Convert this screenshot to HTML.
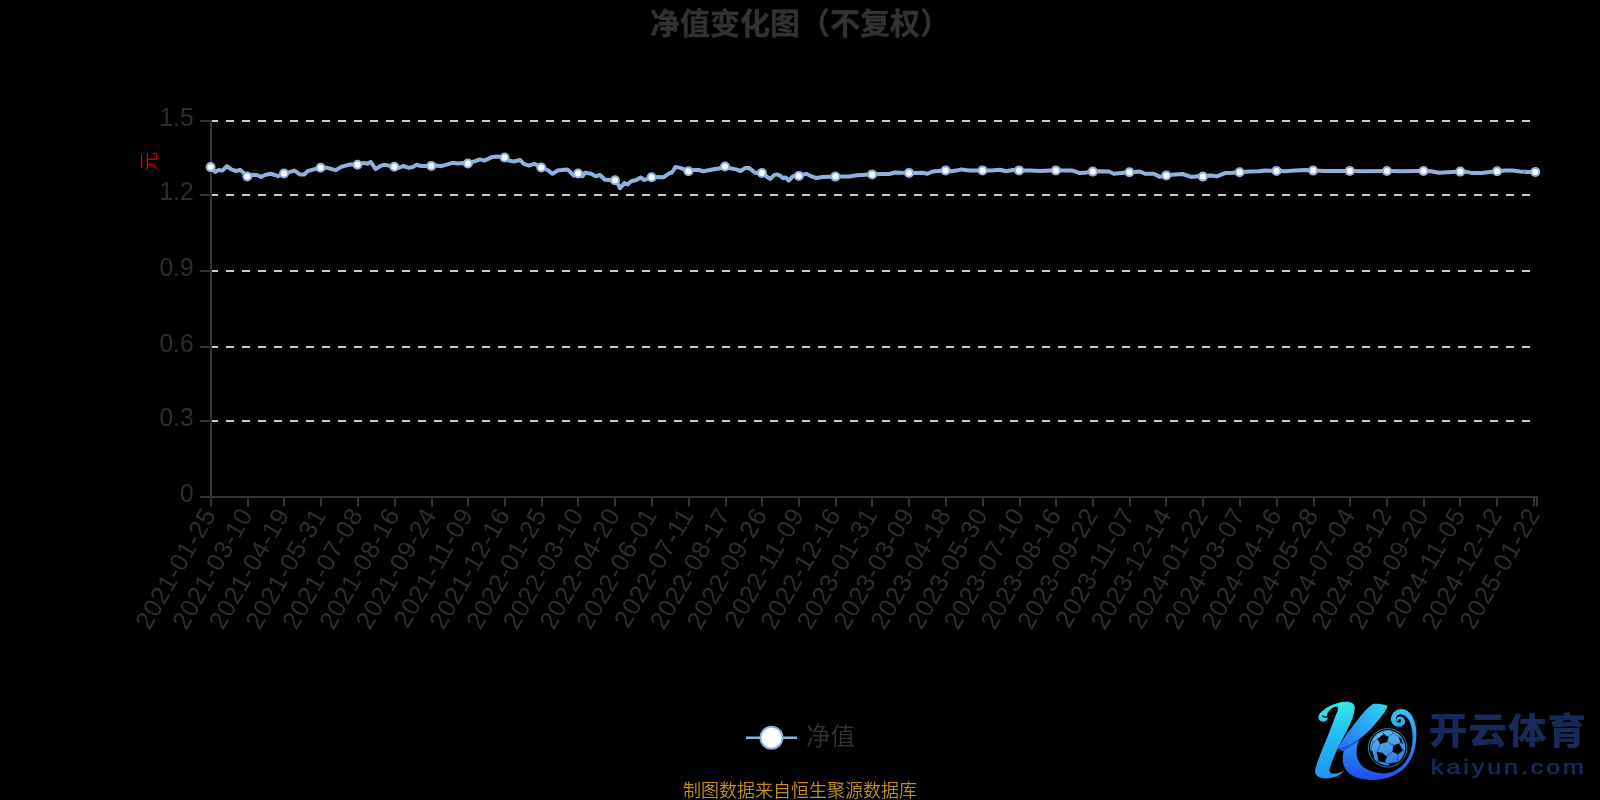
<!DOCTYPE html>
<html lang="zh-CN"><head><meta charset="utf-8"><title>净值变化图（不复权）</title>
<style>
html,body{margin:0;padding:0;background:#000;}
body{width:1600px;height:800px;overflow:hidden;position:relative;font-family:'Liberation Sans', 'Noto Sans CJK SC', sans-serif;}
#chart{position:absolute;left:0;top:0;width:1600px;height:800px;display:block;}
.title{position:absolute;left:0;top:0;width:1600px;text-align:center;font-family:"Liberation Sans","Noto Sans CJK SC",sans-serif;font-weight:bold;font-size:30px;line-height:30px;color:#333;white-space:nowrap;-webkit-text-stroke:0.4px #333;}
.src{position:absolute;left:0;width:1600px;text-align:center;font-size:18px;line-height:18px;color:#c8901e;font-weight:350;white-space:nowrap;}
.legend-label{position:absolute;font-size:24.5px;line-height:24px;color:#333;font-weight:350;white-space:nowrap;}
.yname{position:absolute;color:#e00000;font-weight:350;font-size:19px;line-height:19px;white-space:nowrap;transform-origin:center center;transform:rotate(-90deg);}
.logo-cn{position:absolute;font-family:"Liberation Sans","Noto Sans CJK SC",sans-serif;font-weight:bold;color:#182b5a;white-space:nowrap;}
.logo-en{position:absolute;font-family:"Liberation Sans","Noto Sans CJK SC",sans-serif;font-weight:bold;color:#182b5a;white-space:nowrap;}
.title,.src,.legend-label,.yname,.logo-cn,.logo-en{opacity:0.996;will-change:opacity;}
</style></head><body>
<svg id="chart" width="1600" height="800" viewBox="0 0 1600 800">
<rect x="0" y="0" width="1600" height="800" fill="#000"/>
<line x1="210" y1="121" x2="1536" y2="121" stroke="#cccccc" stroke-width="2" stroke-dasharray="8 8"/>
<line x1="210" y1="195" x2="1536" y2="195" stroke="#cccccc" stroke-width="2" stroke-dasharray="8 8"/>
<line x1="210" y1="271" x2="1536" y2="271" stroke="#cccccc" stroke-width="2" stroke-dasharray="8 8"/>
<line x1="210" y1="347" x2="1536" y2="347" stroke="#cccccc" stroke-width="2" stroke-dasharray="8 8"/>
<line x1="210" y1="421" x2="1536" y2="421" stroke="#cccccc" stroke-width="2" stroke-dasharray="8 8"/>
<line x1="200" y1="121" x2="211" y2="121" stroke="#333333" stroke-width="2"/>
<line x1="200" y1="195" x2="211" y2="195" stroke="#333333" stroke-width="2"/>
<line x1="200" y1="271" x2="211" y2="271" stroke="#333333" stroke-width="2"/>
<line x1="200" y1="347" x2="211" y2="347" stroke="#333333" stroke-width="2"/>
<line x1="200" y1="421" x2="211" y2="421" stroke="#333333" stroke-width="2"/>
<line x1="200" y1="497" x2="211" y2="497" stroke="#333333" stroke-width="2"/>
<line x1="211" y1="120" x2="211" y2="498" stroke="#333333" stroke-width="2"/>
<line x1="210" y1="497" x2="1538" y2="497" stroke="#333333" stroke-width="2"/>
<line x1="211.0" y1="497" x2="211.0" y2="506.5" stroke="#333333" stroke-width="2"/>
<line x1="248.0" y1="497" x2="248.0" y2="506.5" stroke="#333333" stroke-width="2"/>
<line x1="284.0" y1="497" x2="284.0" y2="506.5" stroke="#333333" stroke-width="2"/>
<line x1="321.0" y1="497" x2="321.0" y2="506.5" stroke="#333333" stroke-width="2"/>
<line x1="358.0" y1="497" x2="358.0" y2="506.5" stroke="#333333" stroke-width="2"/>
<line x1="395.0" y1="497" x2="395.0" y2="506.5" stroke="#333333" stroke-width="2"/>
<line x1="432.0" y1="497" x2="432.0" y2="506.5" stroke="#333333" stroke-width="2"/>
<line x1="468.0" y1="497" x2="468.0" y2="506.5" stroke="#333333" stroke-width="2"/>
<line x1="505.0" y1="497" x2="505.0" y2="506.5" stroke="#333333" stroke-width="2"/>
<line x1="542.0" y1="497" x2="542.0" y2="506.5" stroke="#333333" stroke-width="2"/>
<line x1="578.0" y1="497" x2="578.0" y2="506.5" stroke="#333333" stroke-width="2"/>
<line x1="615.0" y1="497" x2="615.0" y2="506.5" stroke="#333333" stroke-width="2"/>
<line x1="652.0" y1="497" x2="652.0" y2="506.5" stroke="#333333" stroke-width="2"/>
<line x1="689.0" y1="497" x2="689.0" y2="506.5" stroke="#333333" stroke-width="2"/>
<line x1="726.0" y1="497" x2="726.0" y2="506.5" stroke="#333333" stroke-width="2"/>
<line x1="762.0" y1="497" x2="762.0" y2="506.5" stroke="#333333" stroke-width="2"/>
<line x1="799.0" y1="497" x2="799.0" y2="506.5" stroke="#333333" stroke-width="2"/>
<line x1="836.0" y1="497" x2="836.0" y2="506.5" stroke="#333333" stroke-width="2"/>
<line x1="872.0" y1="497" x2="872.0" y2="506.5" stroke="#333333" stroke-width="2"/>
<line x1="909.0" y1="497" x2="909.0" y2="506.5" stroke="#333333" stroke-width="2"/>
<line x1="946.0" y1="497" x2="946.0" y2="506.5" stroke="#333333" stroke-width="2"/>
<line x1="983.0" y1="497" x2="983.0" y2="506.5" stroke="#333333" stroke-width="2"/>
<line x1="1020.0" y1="497" x2="1020.0" y2="506.5" stroke="#333333" stroke-width="2"/>
<line x1="1056.0" y1="497" x2="1056.0" y2="506.5" stroke="#333333" stroke-width="2"/>
<line x1="1093.0" y1="497" x2="1093.0" y2="506.5" stroke="#333333" stroke-width="2"/>
<line x1="1130.0" y1="497" x2="1130.0" y2="506.5" stroke="#333333" stroke-width="2"/>
<line x1="1166.0" y1="497" x2="1166.0" y2="506.5" stroke="#333333" stroke-width="2"/>
<line x1="1203.0" y1="497" x2="1203.0" y2="506.5" stroke="#333333" stroke-width="2"/>
<line x1="1240.0" y1="497" x2="1240.0" y2="506.5" stroke="#333333" stroke-width="2"/>
<line x1="1277.0" y1="497" x2="1277.0" y2="506.5" stroke="#333333" stroke-width="2"/>
<line x1="1314.0" y1="497" x2="1314.0" y2="506.5" stroke="#333333" stroke-width="2"/>
<line x1="1350.0" y1="497" x2="1350.0" y2="506.5" stroke="#333333" stroke-width="2"/>
<line x1="1387.0" y1="497" x2="1387.0" y2="506.5" stroke="#333333" stroke-width="2"/>
<line x1="1424.0" y1="497" x2="1424.0" y2="506.5" stroke="#333333" stroke-width="2"/>
<line x1="1460.0" y1="497" x2="1460.0" y2="506.5" stroke="#333333" stroke-width="2"/>
<line x1="1497.0" y1="497" x2="1497.0" y2="506.5" stroke="#333333" stroke-width="2"/>
<line x1="1534.0" y1="497" x2="1534.0" y2="506.5" stroke="#333333" stroke-width="2"/>
<line x1="1537.0" y1="497" x2="1537.0" y2="506.5" stroke="#333333" stroke-width="2"/>
<g opacity="0.996">
<text transform="translate(193.6,126.0) scale(0.945,1)" x="0" y="0" text-anchor="end" font-family="'Liberation Sans', 'Noto Sans CJK SC', sans-serif" font-size="26" fill="#2f2f2f">1.5</text>
<text transform="translate(193.6,200.0) scale(0.945,1)" x="0" y="0" text-anchor="end" font-family="'Liberation Sans', 'Noto Sans CJK SC', sans-serif" font-size="26" fill="#2f2f2f">1.2</text>
<text transform="translate(193.6,276.0) scale(0.945,1)" x="0" y="0" text-anchor="end" font-family="'Liberation Sans', 'Noto Sans CJK SC', sans-serif" font-size="26" fill="#2f2f2f">0.9</text>
<text transform="translate(193.6,352.0) scale(0.945,1)" x="0" y="0" text-anchor="end" font-family="'Liberation Sans', 'Noto Sans CJK SC', sans-serif" font-size="26" fill="#2f2f2f">0.6</text>
<text transform="translate(193.6,426.0) scale(0.945,1)" x="0" y="0" text-anchor="end" font-family="'Liberation Sans', 'Noto Sans CJK SC', sans-serif" font-size="26" fill="#2f2f2f">0.3</text>
<text transform="translate(193.6,502.0) scale(0.945,1)" x="0" y="0" text-anchor="end" font-family="'Liberation Sans', 'Noto Sans CJK SC', sans-serif" font-size="26" fill="#2f2f2f">0</text>
<text transform="translate(211.0,511.0) rotate(-60)" x="0" y="0" text-anchor="end" dominant-baseline="middle" font-family="'Liberation Sans', 'Noto Sans CJK SC', sans-serif" font-size="25.2" letter-spacing="0.60" fill="#2f2f2f">2021-01-25</text>
<text transform="translate(247.8,511.0) rotate(-60)" x="0" y="0" text-anchor="end" dominant-baseline="middle" font-family="'Liberation Sans', 'Noto Sans CJK SC', sans-serif" font-size="25.2" letter-spacing="0.60" fill="#2f2f2f">2021-03-10</text>
<text transform="translate(284.5,511.0) rotate(-60)" x="0" y="0" text-anchor="end" dominant-baseline="middle" font-family="'Liberation Sans', 'Noto Sans CJK SC', sans-serif" font-size="25.2" letter-spacing="0.60" fill="#2f2f2f">2021-04-19</text>
<text transform="translate(321.2,511.0) rotate(-60)" x="0" y="0" text-anchor="end" dominant-baseline="middle" font-family="'Liberation Sans', 'Noto Sans CJK SC', sans-serif" font-size="25.2" letter-spacing="0.60" fill="#2f2f2f">2021-05-31</text>
<text transform="translate(358.0,511.0) rotate(-60)" x="0" y="0" text-anchor="end" dominant-baseline="middle" font-family="'Liberation Sans', 'Noto Sans CJK SC', sans-serif" font-size="25.2" letter-spacing="0.60" fill="#2f2f2f">2021-07-08</text>
<text transform="translate(394.8,511.0) rotate(-60)" x="0" y="0" text-anchor="end" dominant-baseline="middle" font-family="'Liberation Sans', 'Noto Sans CJK SC', sans-serif" font-size="25.2" letter-spacing="0.60" fill="#2f2f2f">2021-08-16</text>
<text transform="translate(431.5,511.0) rotate(-60)" x="0" y="0" text-anchor="end" dominant-baseline="middle" font-family="'Liberation Sans', 'Noto Sans CJK SC', sans-serif" font-size="25.2" letter-spacing="0.60" fill="#2f2f2f">2021-09-24</text>
<text transform="translate(468.2,511.0) rotate(-60)" x="0" y="0" text-anchor="end" dominant-baseline="middle" font-family="'Liberation Sans', 'Noto Sans CJK SC', sans-serif" font-size="25.2" letter-spacing="0.60" fill="#2f2f2f">2021-11-09</text>
<text transform="translate(505.0,511.0) rotate(-60)" x="0" y="0" text-anchor="end" dominant-baseline="middle" font-family="'Liberation Sans', 'Noto Sans CJK SC', sans-serif" font-size="25.2" letter-spacing="0.60" fill="#2f2f2f">2021-12-16</text>
<text transform="translate(541.8,511.0) rotate(-60)" x="0" y="0" text-anchor="end" dominant-baseline="middle" font-family="'Liberation Sans', 'Noto Sans CJK SC', sans-serif" font-size="25.2" letter-spacing="0.60" fill="#2f2f2f">2022-01-25</text>
<text transform="translate(578.5,511.0) rotate(-60)" x="0" y="0" text-anchor="end" dominant-baseline="middle" font-family="'Liberation Sans', 'Noto Sans CJK SC', sans-serif" font-size="25.2" letter-spacing="0.60" fill="#2f2f2f">2022-03-10</text>
<text transform="translate(615.2,511.0) rotate(-60)" x="0" y="0" text-anchor="end" dominant-baseline="middle" font-family="'Liberation Sans', 'Noto Sans CJK SC', sans-serif" font-size="25.2" letter-spacing="0.60" fill="#2f2f2f">2022-04-20</text>
<text transform="translate(652.0,511.0) rotate(-60)" x="0" y="0" text-anchor="end" dominant-baseline="middle" font-family="'Liberation Sans', 'Noto Sans CJK SC', sans-serif" font-size="25.2" letter-spacing="0.60" fill="#2f2f2f">2022-06-01</text>
<text transform="translate(688.8,511.0) rotate(-60)" x="0" y="0" text-anchor="end" dominant-baseline="middle" font-family="'Liberation Sans', 'Noto Sans CJK SC', sans-serif" font-size="25.2" letter-spacing="0.60" fill="#2f2f2f">2022-07-11</text>
<text transform="translate(725.5,511.0) rotate(-60)" x="0" y="0" text-anchor="end" dominant-baseline="middle" font-family="'Liberation Sans', 'Noto Sans CJK SC', sans-serif" font-size="25.2" letter-spacing="0.60" fill="#2f2f2f">2022-08-17</text>
<text transform="translate(762.2,511.0) rotate(-60)" x="0" y="0" text-anchor="end" dominant-baseline="middle" font-family="'Liberation Sans', 'Noto Sans CJK SC', sans-serif" font-size="25.2" letter-spacing="0.60" fill="#2f2f2f">2022-09-26</text>
<text transform="translate(799.0,511.0) rotate(-60)" x="0" y="0" text-anchor="end" dominant-baseline="middle" font-family="'Liberation Sans', 'Noto Sans CJK SC', sans-serif" font-size="25.2" letter-spacing="0.60" fill="#2f2f2f">2022-11-09</text>
<text transform="translate(835.8,511.0) rotate(-60)" x="0" y="0" text-anchor="end" dominant-baseline="middle" font-family="'Liberation Sans', 'Noto Sans CJK SC', sans-serif" font-size="25.2" letter-spacing="0.60" fill="#2f2f2f">2022-12-16</text>
<text transform="translate(872.5,511.0) rotate(-60)" x="0" y="0" text-anchor="end" dominant-baseline="middle" font-family="'Liberation Sans', 'Noto Sans CJK SC', sans-serif" font-size="25.2" letter-spacing="0.60" fill="#2f2f2f">2023-01-31</text>
<text transform="translate(909.2,511.0) rotate(-60)" x="0" y="0" text-anchor="end" dominant-baseline="middle" font-family="'Liberation Sans', 'Noto Sans CJK SC', sans-serif" font-size="25.2" letter-spacing="0.60" fill="#2f2f2f">2023-03-09</text>
<text transform="translate(946.0,511.0) rotate(-60)" x="0" y="0" text-anchor="end" dominant-baseline="middle" font-family="'Liberation Sans', 'Noto Sans CJK SC', sans-serif" font-size="25.2" letter-spacing="0.60" fill="#2f2f2f">2023-04-18</text>
<text transform="translate(982.8,511.0) rotate(-60)" x="0" y="0" text-anchor="end" dominant-baseline="middle" font-family="'Liberation Sans', 'Noto Sans CJK SC', sans-serif" font-size="25.2" letter-spacing="0.60" fill="#2f2f2f">2023-05-30</text>
<text transform="translate(1019.5,511.0) rotate(-60)" x="0" y="0" text-anchor="end" dominant-baseline="middle" font-family="'Liberation Sans', 'Noto Sans CJK SC', sans-serif" font-size="25.2" letter-spacing="0.60" fill="#2f2f2f">2023-07-10</text>
<text transform="translate(1056.2,511.0) rotate(-60)" x="0" y="0" text-anchor="end" dominant-baseline="middle" font-family="'Liberation Sans', 'Noto Sans CJK SC', sans-serif" font-size="25.2" letter-spacing="0.60" fill="#2f2f2f">2023-08-16</text>
<text transform="translate(1093.0,511.0) rotate(-60)" x="0" y="0" text-anchor="end" dominant-baseline="middle" font-family="'Liberation Sans', 'Noto Sans CJK SC', sans-serif" font-size="25.2" letter-spacing="0.60" fill="#2f2f2f">2023-09-22</text>
<text transform="translate(1129.8,511.0) rotate(-60)" x="0" y="0" text-anchor="end" dominant-baseline="middle" font-family="'Liberation Sans', 'Noto Sans CJK SC', sans-serif" font-size="25.2" letter-spacing="0.60" fill="#2f2f2f">2023-11-07</text>
<text transform="translate(1166.5,511.0) rotate(-60)" x="0" y="0" text-anchor="end" dominant-baseline="middle" font-family="'Liberation Sans', 'Noto Sans CJK SC', sans-serif" font-size="25.2" letter-spacing="0.60" fill="#2f2f2f">2023-12-14</text>
<text transform="translate(1203.2,511.0) rotate(-60)" x="0" y="0" text-anchor="end" dominant-baseline="middle" font-family="'Liberation Sans', 'Noto Sans CJK SC', sans-serif" font-size="25.2" letter-spacing="0.60" fill="#2f2f2f">2024-01-22</text>
<text transform="translate(1240.0,511.0) rotate(-60)" x="0" y="0" text-anchor="end" dominant-baseline="middle" font-family="'Liberation Sans', 'Noto Sans CJK SC', sans-serif" font-size="25.2" letter-spacing="0.60" fill="#2f2f2f">2024-03-07</text>
<text transform="translate(1276.8,511.0) rotate(-60)" x="0" y="0" text-anchor="end" dominant-baseline="middle" font-family="'Liberation Sans', 'Noto Sans CJK SC', sans-serif" font-size="25.2" letter-spacing="0.60" fill="#2f2f2f">2024-04-16</text>
<text transform="translate(1313.5,511.0) rotate(-60)" x="0" y="0" text-anchor="end" dominant-baseline="middle" font-family="'Liberation Sans', 'Noto Sans CJK SC', sans-serif" font-size="25.2" letter-spacing="0.60" fill="#2f2f2f">2024-05-28</text>
<text transform="translate(1350.2,511.0) rotate(-60)" x="0" y="0" text-anchor="end" dominant-baseline="middle" font-family="'Liberation Sans', 'Noto Sans CJK SC', sans-serif" font-size="25.2" letter-spacing="0.60" fill="#2f2f2f">2024-07-04</text>
<text transform="translate(1387.0,511.0) rotate(-60)" x="0" y="0" text-anchor="end" dominant-baseline="middle" font-family="'Liberation Sans', 'Noto Sans CJK SC', sans-serif" font-size="25.2" letter-spacing="0.60" fill="#2f2f2f">2024-08-12</text>
<text transform="translate(1423.8,511.0) rotate(-60)" x="0" y="0" text-anchor="end" dominant-baseline="middle" font-family="'Liberation Sans', 'Noto Sans CJK SC', sans-serif" font-size="25.2" letter-spacing="0.60" fill="#2f2f2f">2024-09-20</text>
<text transform="translate(1460.5,511.0) rotate(-60)" x="0" y="0" text-anchor="end" dominant-baseline="middle" font-family="'Liberation Sans', 'Noto Sans CJK SC', sans-serif" font-size="25.2" letter-spacing="0.60" fill="#2f2f2f">2024-11-05</text>
<text transform="translate(1497.2,511.0) rotate(-60)" x="0" y="0" text-anchor="end" dominant-baseline="middle" font-family="'Liberation Sans', 'Noto Sans CJK SC', sans-serif" font-size="25.2" letter-spacing="0.60" fill="#2f2f2f">2024-12-12</text>
<text transform="translate(1535.0,511.0) rotate(-60)" x="0" y="0" text-anchor="end" dominant-baseline="middle" font-family="'Liberation Sans', 'Noto Sans CJK SC', sans-serif" font-size="25.2" letter-spacing="0.60" fill="#2f2f2f">2025-01-22</text>
</g>
<path d="M210.6 167.1 L215.0 171.9 L218.8 170.0 L222.5 170.6 L226.9 166.2 L231.2 169.4 L236.2 171.0 L240.0 169.8 L243.8 173.1 L247.2 176.5 L252.5 174.8 L256.9 175.0 L261.2 176.9 L265.0 175.0 L270.6 173.8 L275.0 175.0 L278.1 176.2 L284.0 173.5 L290.0 171.9 L294.4 170.6 L300.0 174.4 L304.4 174.4 L307.5 171.2 L313.8 169.4 L320.6 167.8 L327.5 167.8 L335.6 170.2 L341.2 166.9 L350.0 164.4 L357.5 164.8 L363.8 162.9 L367.5 163.8 L370.6 161.9 L375.6 169.0 L380.0 166.2 L383.8 164.8 L388.8 165.6 L394.1 166.9 L399.4 167.8 L403.1 166.0 L408.8 167.8 L413.1 166.9 L416.2 164.8 L421.2 166.0 L426.2 166.0 L431.2 165.9 L436.2 165.6 L441.2 166.2 L447.5 164.4 L452.5 162.8 L458.1 163.5 L462.5 163.1 L467.9 163.5 L475.0 161.2 L480.0 159.4 L484.4 160.6 L492.5 156.9 L497.5 156.5 L504.6 157.5 L508.8 160.6 L513.8 161.5 L520.0 160.0 L523.8 163.8 L528.8 165.6 L534.4 163.8 L541.2 167.5 L547.5 170.0 L552.5 173.8 L557.5 170.6 L567.5 169.4 L573.8 175.6 L578.1 173.5 L582.5 176.2 L585.0 172.8 L590.0 173.5 L591.2 173.8 L595.6 176.2 L600.0 175.0 L605.0 179.8 L610.0 180.0 L615.0 180.2 L617.5 183.1 L620.0 188.1 L624.4 183.1 L627.5 184.4 L631.2 181.2 L636.2 180.0 L640.6 177.5 L644.4 180.0 L651.6 177.2 L657.5 176.9 L663.8 177.2 L668.8 173.5 L671.9 172.5 L675.6 166.9 L681.2 168.1 L688.4 171.2 L693.8 170.0 L698.8 170.0 L703.1 171.2 L710.0 170.0 L715.0 169.0 L718.8 168.5 L725.0 166.5 L731.2 168.5 L736.2 169.4 L740.6 171.0 L745.0 168.1 L749.4 168.1 L755.0 172.8 L761.9 172.9 L766.2 176.2 L770.0 179.0 L774.4 175.0 L776.9 174.4 L780.0 175.6 L783.1 178.1 L785.6 177.5 L788.8 180.6 L793.1 176.2 L798.8 175.9 L806.2 173.8 L811.2 176.2 L816.2 178.1 L822.5 177.1 L835.4 176.6 L848.8 176.5 L857.5 175.2 L865.0 174.8 L872.1 174.4 L880.0 174.0 L889.4 174.0 L895.0 172.5 L902.5 172.8 L909.0 172.9 L915.0 173.1 L922.5 172.8 L927.5 173.8 L932.5 171.5 L938.8 171.0 L945.6 170.4 L951.2 171.2 L956.2 170.6 L961.2 169.4 L966.2 170.2 L970.0 170.4 L975.0 170.6 L982.5 170.4 L991.2 170.4 L1000.0 169.8 L1006.2 171.2 L1012.5 170.0 L1019.1 170.4 L1030.0 170.6 L1041.2 170.9 L1050.0 170.4 L1055.9 170.4 L1063.8 170.4 L1072.5 170.6 L1080.0 173.1 L1086.2 172.5 L1092.8 171.6 L1100.0 171.2 L1108.8 171.5 L1113.8 173.8 L1121.2 173.1 L1129.4 172.2 L1135.0 171.9 L1140.0 171.5 L1145.0 173.8 L1153.8 173.8 L1160.0 176.9 L1166.2 175.4 L1175.0 174.4 L1182.5 174.0 L1191.2 176.9 L1197.5 176.2 L1202.9 176.6 L1210.0 175.6 L1217.5 176.2 L1225.0 173.1 L1232.5 172.8 L1239.6 172.2 L1250.0 171.5 L1258.8 171.2 L1265.0 170.6 L1276.5 170.9 L1285.0 171.2 L1295.0 170.6 L1305.0 170.0 L1313.1 170.6 L1325.0 170.9 L1337.5 170.9 L1349.6 170.9 L1365.0 171.2 L1386.9 171.0 L1402.5 171.2 L1415.0 171.0 L1423.5 171.0 L1431.2 171.2 L1438.8 172.8 L1447.5 172.2 L1460.2 171.6 L1466.2 171.9 L1472.5 173.1 L1481.2 172.9 L1490.0 171.9 L1497.1 171.2 L1505.0 170.6 L1512.5 170.4 L1520.0 171.5 L1527.5 171.9 L1535.2 171.9" fill="none" stroke="#90b1de" stroke-width="4" stroke-linejoin="round" stroke-linecap="round"/>
<circle cx="210.6" cy="167.1" r="4" fill="#fff" stroke="#90b1de" stroke-width="2"/>
<circle cx="247.3" cy="176.5" r="4" fill="#fff" stroke="#90b1de" stroke-width="2"/>
<circle cx="284.0" cy="173.5" r="4" fill="#fff" stroke="#90b1de" stroke-width="2"/>
<circle cx="320.6" cy="167.8" r="4" fill="#fff" stroke="#90b1de" stroke-width="2"/>
<circle cx="357.5" cy="164.8" r="4" fill="#fff" stroke="#90b1de" stroke-width="2"/>
<circle cx="394.3" cy="166.7" r="4" fill="#fff" stroke="#90b1de" stroke-width="2"/>
<circle cx="431.3" cy="165.9" r="4" fill="#fff" stroke="#90b1de" stroke-width="2"/>
<circle cx="467.9" cy="163.5" r="4" fill="#fff" stroke="#90b1de" stroke-width="2"/>
<circle cx="504.6" cy="157.5" r="4" fill="#fff" stroke="#90b1de" stroke-width="2"/>
<circle cx="541.3" cy="167.5" r="4" fill="#fff" stroke="#90b1de" stroke-width="2"/>
<circle cx="578.1" cy="173.5" r="4" fill="#fff" stroke="#90b1de" stroke-width="2"/>
<circle cx="615.0" cy="180.3" r="4" fill="#fff" stroke="#90b1de" stroke-width="2"/>
<circle cx="651.6" cy="177.3" r="4" fill="#fff" stroke="#90b1de" stroke-width="2"/>
<circle cx="688.4" cy="171.3" r="4" fill="#fff" stroke="#90b1de" stroke-width="2"/>
<circle cx="725.0" cy="166.5" r="4" fill="#fff" stroke="#90b1de" stroke-width="2"/>
<circle cx="761.9" cy="172.9" r="4" fill="#fff" stroke="#90b1de" stroke-width="2"/>
<circle cx="798.8" cy="175.9" r="4" fill="#fff" stroke="#90b1de" stroke-width="2"/>
<circle cx="835.4" cy="176.6" r="4" fill="#fff" stroke="#90b1de" stroke-width="2"/>
<circle cx="872.1" cy="174.4" r="4" fill="#fff" stroke="#90b1de" stroke-width="2"/>
<circle cx="909.0" cy="172.9" r="4" fill="#fff" stroke="#90b1de" stroke-width="2"/>
<circle cx="945.6" cy="170.4" r="4" fill="#fff" stroke="#90b1de" stroke-width="2"/>
<circle cx="982.5" cy="170.4" r="4" fill="#fff" stroke="#90b1de" stroke-width="2"/>
<circle cx="1019.1" cy="170.4" r="4" fill="#fff" stroke="#90b1de" stroke-width="2"/>
<circle cx="1055.9" cy="170.4" r="4" fill="#fff" stroke="#90b1de" stroke-width="2"/>
<circle cx="1092.8" cy="171.6" r="4" fill="#fff" stroke="#90b1de" stroke-width="2"/>
<circle cx="1129.4" cy="172.3" r="4" fill="#fff" stroke="#90b1de" stroke-width="2"/>
<circle cx="1166.3" cy="175.4" r="4" fill="#fff" stroke="#90b1de" stroke-width="2"/>
<circle cx="1202.9" cy="176.6" r="4" fill="#fff" stroke="#90b1de" stroke-width="2"/>
<circle cx="1239.6" cy="172.3" r="4" fill="#fff" stroke="#90b1de" stroke-width="2"/>
<circle cx="1276.5" cy="170.9" r="4" fill="#fff" stroke="#90b1de" stroke-width="2"/>
<circle cx="1313.1" cy="170.6" r="4" fill="#fff" stroke="#90b1de" stroke-width="2"/>
<circle cx="1349.8" cy="170.9" r="4" fill="#fff" stroke="#90b1de" stroke-width="2"/>
<circle cx="1386.9" cy="171.0" r="4" fill="#fff" stroke="#90b1de" stroke-width="2"/>
<circle cx="1423.5" cy="171.0" r="4" fill="#fff" stroke="#90b1de" stroke-width="2"/>
<circle cx="1460.3" cy="171.6" r="4" fill="#fff" stroke="#90b1de" stroke-width="2"/>
<circle cx="1497.1" cy="171.3" r="4" fill="#fff" stroke="#90b1de" stroke-width="2"/>
<circle cx="1535.3" cy="171.9" r="4" fill="#fff" stroke="#90b1de" stroke-width="2"/>
<circle cx="1524.4" cy="171.6" r="0.7" fill="#3a4658"/>
<line x1="746" y1="737.8" x2="797" y2="737.8" stroke="#90b1de" stroke-width="2.4"/>
<circle cx="771.5" cy="737.8" r="11" fill="#fff" stroke="#90b1de" stroke-width="2"/>
</svg>
<div class="title" style="top:8.5px">净值变化图（不复权）</div>
<div class="yname" style="left:139.9px;top:151.9px;width:19px;height:19px;">元</div>
<div class="legend-label" style="left:806px;top:724.5px;">净值</div>
<div class="src" style="top:782px">制图数据来自恒生聚源数据库</div>
<svg style="position:absolute;left:1305px;top:695px;" width="120" height="90" viewBox="0 0 1067 800">
<defs>
<linearGradient id="kg" gradientUnits="userSpaceOnUse" x1="0" y1="60" x2="0" y2="745">
<stop offset="0" stop-color="#38eae2"/>
<stop offset="0.45" stop-color="#1fbcf2"/>
<stop offset="1" stop-color="#2292f3"/>
</linearGradient>
<linearGradient id="ka" gradientUnits="userSpaceOnUse" x1="720" y1="85" x2="300" y2="480">
<stop offset="0" stop-color="#2fd4ee"/>
<stop offset="0.5" stop-color="#28a4f3"/>
<stop offset="1" stop-color="#2a6cf6"/>
</linearGradient>
<linearGradient id="kl" gradientUnits="userSpaceOnUse" x1="0" y1="120" x2="0" y2="760">
<stop offset="0" stop-color="#35c8f0"/>
<stop offset="0.5" stop-color="#2a8cf3"/>
<stop offset="1" stop-color="#1f4cf0"/>
</linearGradient>
<linearGradient id="bg" gradientUnits="userSpaceOnUse" x1="700" y1="310" x2="780" y2="640">
<stop offset="0" stop-color="#58baf0"/>
<stop offset="1" stop-color="#2f76e8"/>
</linearGradient>
</defs>
<!-- left stem with hook and foot -->
<path fill="url(#kg)" d="M119 195 C125 150 200 95 290 70 C340 57 400 55 425 75 C445 92 445 115 440 135 C425 220 380 310 330 395 L294 470 C260 540 235 610 220 650 C212 685 225 700 250 700 C290 700 320 690 345 672 C320 715 250 745 180 742 C120 740 85 715 90 670 C100 610 150 490 200 370 C235 285 265 200 290 140 C300 112 290 100 270 105 C235 115 200 150 195 180 C195 195 205 200 200 215 C190 240 150 245 130 225 C120 215 118 205 119 195 Z"/>
<path d="M214 176 C198 198 172 204 160 188" fill="none" stroke="#000" stroke-width="13" stroke-linecap="round"/>
<!-- upper arm -->
<path fill="url(#ka)" d="M604 80 C650 72 720 85 735 100 C700 180 600 290 540 345 C490 395 420 435 370 455 C340 467 310 475 294 478 L294 470 C330 400 420 280 500 180 C540 130 580 95 604 80 Z"/>
<!-- lower leg + swirl -->
<path fill="url(#kl)" d="M294 478 C340 470 430 432 485 398 C455 450 452 520 468 570 C495 650 590 695 700 697 C790 695 880 640 925 540 C960 460 968 350 940 260 C925 215 895 178 852 172 C822 170 806 196 810 220 C814 242 836 252 850 240 C860 230 854 214 840 214 C830 216 828 226 834 232 C814 236 806 212 822 197 C845 180 885 195 890 232 C893 270 850 290 812 278 C780 268 760 240 765 205 C772 155 815 122 860 124 C930 128 975 200 988 300 C1000 420 970 560 890 645 C810 725 690 760 580 755 C480 750 400 720 360 660 C330 610 330 550 345 500 C330 492 310 485 294 478 Z"/>
<!-- shading under the arm -->
<path fill="#1f4fe6" opacity="0.85" d="M294 476 C340 468 430 430 487 396 C450 436 390 466 350 496 C332 490 310 484 294 476 Z"/>
<!-- ball -->
<circle cx="735" cy="470" r="171" fill="none" stroke="#55b6f0" stroke-width="6"/>
<circle cx="735" cy="470" r="156" fill="url(#bg)"/>
<g fill="#000">
<polygon points="644,388 700,346 744,374 730,418 668,436"/>
<polygon points="784,450 836,432 870,492 830,530 778,504"/>
<polygon points="636,504 684,514 728,546 710,600 656,590"/>
<polygon points="583,492 600,500 618,562 596,548"/>
<polygon points="832,368 858,392 872,440 848,420"/>
<polygon points="738,612 800,598 818,606 760,626"/>
</g>
<g stroke="#04122e" stroke-width="4" fill="none" stroke-linecap="round">
<path d="M700 352 L690 322"/>
<path d="M738 376 L782 340 L832 368"/>
<path d="M782 340 L770 318"/>
<path d="M726 412 L790 452"/>
<path d="M672 428 L644 508"/>
<path d="M652 388 L606 420 L583 492"/>
<path d="M606 420 L592 410"/>
<path d="M784 500 L722 546"/>
<path d="M826 522 L818 606"/>
<path d="M862 490 L888 500"/>
<path d="M706 592 L738 612"/>
<path d="M660 582 L640 600"/>
<path d="M848 420 L832 438"/>
</g>
</svg>

<div class="logo-cn" style="left:1428.8px;top:707px;font-size:38.5px;line-height:48px;font-weight:900;letter-spacing:1.1px;transform-origin:0 42px;transform:scaleY(0.945);">开云体育</div>
<div class="logo-en" style="left:1431px;top:755px;font-size:20px;line-height:24px;font-weight:normal;-webkit-text-stroke:0.6px #182b5a;letter-spacing:2.35px;transform-origin:0 0;transform:scaleX(1.25);">kaiyun.com</div>
</body></html>
